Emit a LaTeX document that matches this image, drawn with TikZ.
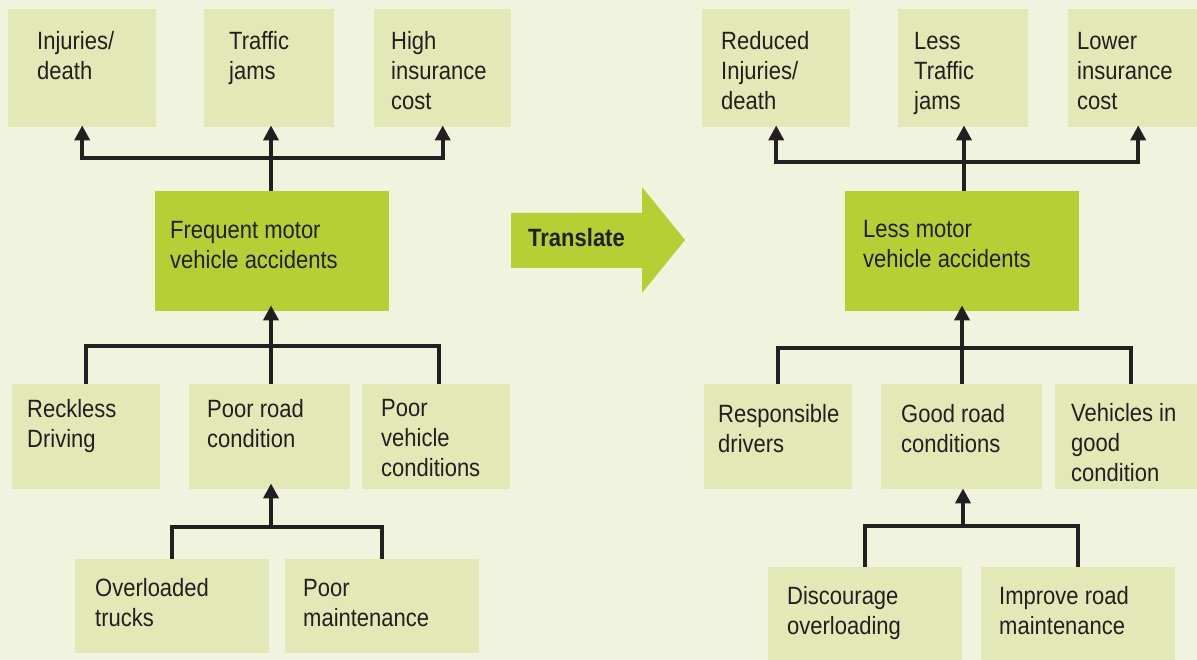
\documentclass[tikz,border=0pt]{standalone}
\usepackage{fontspec}
\setmainfont{Liberation Sans}[FakeStretch=0.88]
\usetikzlibrary{arrows.meta}
\definecolor{bgc}{RGB}{240,244,222}
\definecolor{boxc}{RGB}{226,233,183}
\definecolor{mainc}{RGB}{182,207,52}
\definecolor{inkc}{RGB}{35,31,32}
\tikzset{
  lbox/.style={fill=boxc, draw=none, inner sep=0pt, anchor=north west},
  gbox/.style={fill=mainc, draw=none, inner sep=0pt, anchor=north west},
  % texts are placed by the baseline of their last line
  txt/.style={anchor=base west, inner sep=0pt, align=left, text=inkc,
    font=\fontsize{25}{30}\selectfont},
  line/.style={draw=inkc, line width=4pt, line join=miter},
  arr/.style={line, -{Triangle[width=15pt,length=15pt]}},
}
\newcommand{\boxat}[6]{\node[#1, minimum width=#5-#3, minimum height=#6-#4] (#2) at (#3,#4) {};}
\begin{document}
\begin{tikzpicture}[x=1pt,y=-1pt]
\useasboundingbox (0,0) rectangle (1197,660);
\clip (0,0) rectangle (1197,660);
\fill[bgc] (0,0) rectangle (1197,660);

% ---------- left tree: causes and effects ----------
\boxat{lbox}{inj}{8}{9}{156}{127}
\boxat{lbox}{tra}{204}{9}{334}{127}
\boxat{lbox}{ins}{374}{9}{511}{127}
\boxat{gbox}{fm}{155}{191}{389}{311}
\boxat{lbox}{rd}{12}{384}{160}{489}
\boxat{lbox}{prc}{189}{384}{350}{489}
\boxat{lbox}{pvc}{362}{384}{510}{489}
\boxat{lbox}{ovl}{75}{559}{269}{653}
\boxat{lbox}{pm}{285}{559}{479}{653}

\node[txt] (t-inj) at (37,80) {Injuries/\\death};
\node[txt] (t-tra) at (229,80) {Traffic\\jams};
\node[txt] (t-ins) at (391,110) {High\\insurance\\cost};
\node[txt] (t-fm) at (170,269) {Frequent motor\\vehicle accidents};
\node[txt] (t-rd) at (27,447) {Reckless\\Driving};
\node[txt] (t-prc) at (207,447) {Poor road\\condition};
\node[txt] (t-pvc) at (381,476) {Poor\\vehicle\\conditions};
\node[txt] (t-ovl) at (95,626) {Overloaded\\trucks};
\node[txt] (t-pm) at (303,626) {Poor\\maintenance};

\coordinate (lbar1) at (271,158);
\coordinate (lbar2) at (271,346);
\coordinate (lbar3) at (271,527);

% effects fan
\draw[arr, shorten >=-2pt] (fm.north -| lbar1) -- (tra.south -| lbar1);
\draw[arr, shorten >=-2pt] (lbar1) -| (inj.south);
\draw[arr, shorten >=-2pt] (lbar1) -| (ins.south);
% causes fan
\draw[line] (rd.north) |- (lbar2) -| (pvc.north -| 439,0);
\draw[line] (prc.north -| lbar2) -- (lbar2);
\draw[arr, shorten >=-6pt] (lbar2) -- (fm.south -| lbar2);
% sub-causes fan
\draw[line] (ovl.north) |- (lbar3) -| (pm.north);
\draw[arr, shorten >=-6pt] (lbar3) -- (prc.south -| lbar3);

% ---------- translate arrow ----------
\fill[mainc] (511,213) -- (642,213) -- (642,187) -- (685,240) -- (642,293)
  -- (642,268) -- (511,268) -- cycle;
\node[txt, font=\fontsize{25}{30}\selectfont\bfseries] (t-tr) at (528,247) {Translate};

% ---------- right tree: objectives and means ----------
\boxat{lbox}{rinj}{702}{9}{850}{127}
\boxat{lbox}{rtra}{898}{9}{1028}{127}
\boxat{lbox}{rins}{1068}{9}{1208}{127}
\boxat{gbox}{lm}{845}{191}{1079}{311}
\boxat{lbox}{resp}{704}{384}{852}{489}
\boxat{lbox}{grc}{881}{384}{1042}{489}
\boxat{lbox}{vgc}{1055}{384}{1207}{489}
\boxat{lbox}{dis}{768}{567}{962}{665}
\boxat{lbox}{imp}{981}{567}{1175}{665}

\node[txt] (t-rinj) at (721,110) {Reduced\\Injuries/\\death};
\node[txt] (t-rtra) at (914,110) {Less\\Traffic\\jams};
\node[txt] (t-rins) at (1077,110) {Lower\\insurance\\cost};
\node[txt] (t-lm) at (863,268) {Less motor\\vehicle accidents};
\node[txt] (t-resp) at (718,452) {Responsible\\drivers};
\node[txt] (t-grc) at (901,452) {Good road\\conditions};
\node[txt] (t-vgc) at (1071,481) {Vehicles in\\good\\condition};
\node[txt] (t-dis) at (787,634) {Discourage\\overloading};
\node[txt] (t-imp) at (999,634) {Improve road\\maintenance};

\coordinate (rbar1) at (964,162);
\coordinate (rbar2) at (962,348);
\coordinate (rbar3) at (963,526);

\draw[arr, shorten >=-2pt] (lm.north -| rbar1) -- (rtra.south -| rbar1);
\draw[arr, shorten >=-2pt] (rbar1) -| (rinj.south);
\draw[arr, shorten >=-2pt] (rbar1) -| (rins.south);
\draw[line] (resp.north) |- (rbar2) -| (vgc.north);
\draw[line] (grc.north -| rbar2) -- (rbar2);
\draw[arr, shorten >=-6pt] (rbar2) -- (lm.south -| rbar2);
\draw[line] (dis.north) |- (rbar3) -| (imp.north);
\draw[arr, shorten >=-1pt] (rbar3) -- (grc.south -| rbar3);
\end{tikzpicture}
\end{document}
